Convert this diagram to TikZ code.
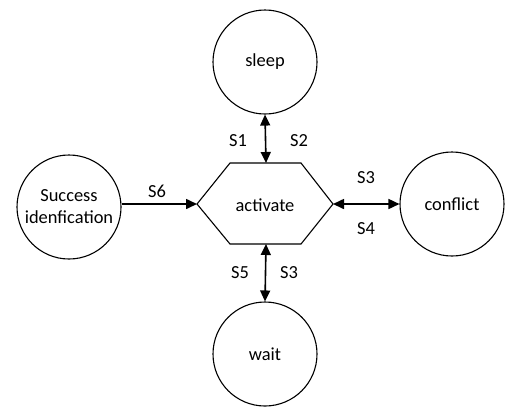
\documentclass[tikz,border=0pt]{standalone}
\usepackage{fontspec}
\setmainfont{Carlito}
\usetikzlibrary{arrows.meta}
\begin{document}
\begin{tikzpicture}[x=1bp,y=-1bp,
  state/.style={circle,draw,line width=1.1bp,minimum size=104bp,inner sep=0pt,align=center,font=\fontsize{18.5}{22}\selectfont},
  lbl/.style={font=\fontsize{18.5}{22}\selectfont},
  tip/.tip={Triangle[length=11bp,width=10bp]},
  conn/.style={line width=1.6bp,tip-tip},
  conn1/.style={line width=1.6bp,-tip}]
\useasboundingbox (0,0) rectangle (506,412);
\node[state] (sleep) at (265,62) {sleep};
\node[state] (wait) at (265,354) {wait};
\node[state] (succ) at (69,207) {Success\\idenfication};
\node[state] (conf) at (452,204) {conflict};
\coordinate (hl) at (197,204);
\coordinate (hr) at (333,204);
\coordinate (ht) at (266,163);
\coordinate (hb) at (266,244);
\draw[line width=1.1bp] (hl) -- (230,163) -- (301,163) -- (hr) -- (301,244) -- (230,244) -- cycle;
\node[lbl] (act) at (265,205) {activate};
\draw[conn] (sleep.south) -- (ht);
\draw[conn] (hb) -- (wait.north);
\draw[conn1] (succ.east |- hl) -- (hl);
\draw[conn] (hr) -- (conf.west);
\node[lbl] (s1) at (238,141) {S1};
\node[lbl] (s2) at (299,141) {S2};
\node[lbl] (s6) at (157,191) {S6};
\node[lbl] (s3a) at (366,178) {S3};
\node[lbl] (s4) at (366,229) {S4};
\node[lbl] (s5) at (240,273) {S5};
\node[lbl] (s3b) at (289,273) {S3};
\end{tikzpicture}
\end{document}
